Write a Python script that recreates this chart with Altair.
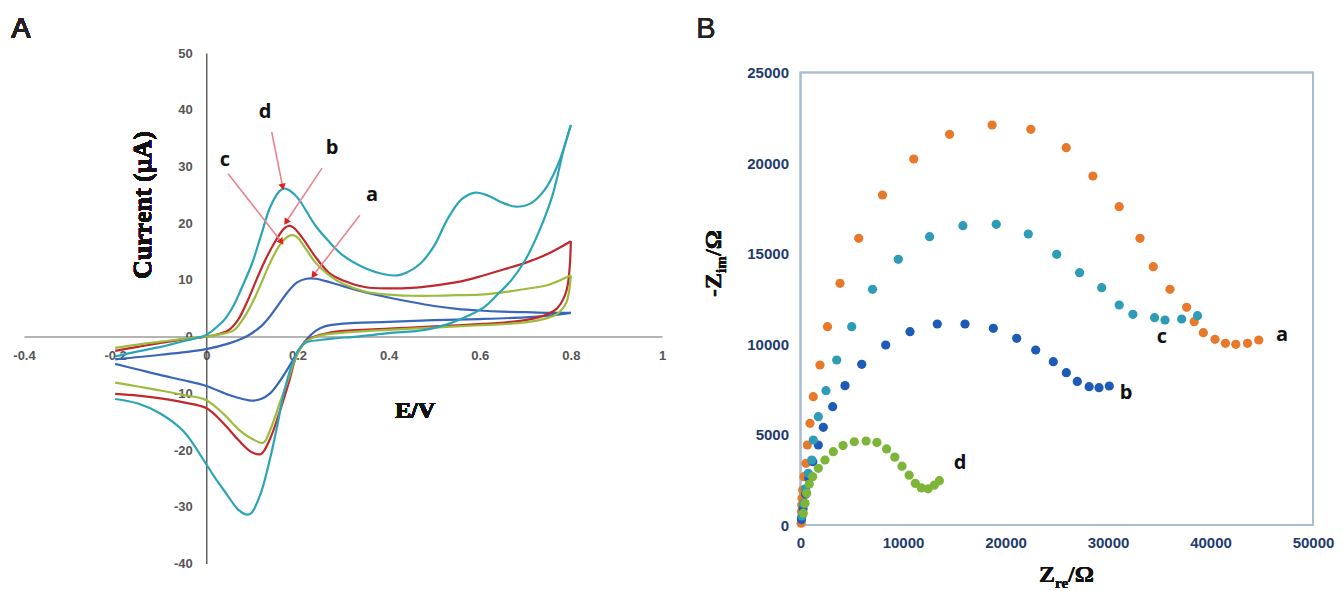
import math
import altair as alt
import pandas as pd

W, H = 1343, 591

# ---------------- Panel A : cyclic voltammograms (E / V, I / uA) ----------------
# each curve: forward (anodic) sweep -0.2 -> 0.8 V, then reverse sweep 0.8 -> -0.2 V
a_E = [-0.2, -0.1, 0.0, 0.05, 0.08, 0.10, 0.12, 0.14, 0.16, 0.18, 0.20, 0.22, 0.24, 0.27, 0.30, 0.35, 0.40, 0.45, 0.50, 0.55, 0.60, 0.65, 0.70, 0.75, 0.80,
       0.75, 0.70, 0.60, 0.50, 0.40, 0.30, 0.26, 0.24, 0.22, 0.20, 0.18, 0.16, 0.14, 0.12, 0.10, 0.08, 0.05, 0.0, -0.05, -0.10, -0.15, -0.20]
a_I = [-4.0, -3.2, -2.2, -1.2, -0.3, 0.6, 1.8, 3.6, 5.8, 8.0, 9.6, 10.2, 10.2, 9.6, 8.9, 7.8, 6.9, 6.1, 5.4, 4.9, 4.6, 4.4, 4.3, 4.2, 4.2,
       3.7, 3.4, 3.1, 2.9, 2.6, 2.3, 1.8, 1.0, -0.5, -2.8, -5.5, -8.0, -10.0, -11.0, -11.3, -11.0, -10.3, -8.7, -7.7, -6.8, -5.8, -4.8]

b_E = [-0.2, -0.15, -0.1, -0.05, 0.0, 0.03, 0.05, 0.07, 0.09, 0.11, 0.13, 0.15, 0.17, 0.18, 0.19, 0.21, 0.24, 0.27, 0.30, 0.35, 0.40, 0.45, 0.50, 0.55, 0.60, 0.65, 0.70, 0.75, 0.80,
       0.79, 0.77, 0.75, 0.70, 0.60, 0.50, 0.40, 0.30, 0.25, 0.22, 0.20, 0.18, 0.16, 0.14, 0.12, 0.10, 0.07, 0.04, 0.0, -0.05, -0.10, -0.15, -0.20]
b_I = [-2.5, -1.8, -1.1, -0.5, 0.0, 0.5, 1.2, 3.0, 6.2, 10.0, 13.6, 16.6, 19.0, 19.5, 19.3, 17.5, 14.0, 11.2, 9.9, 8.7, 8.5, 8.6, 9.0, 9.6, 10.6, 11.8, 13.0, 14.6, 16.8,
       8.0, 5.0, 4.0, 2.9, 2.2, 1.8, 1.4, 1.0, 0.3, -0.7, -3.0, -8.4, -13.5, -18.0, -20.7, -20.4, -18.2, -15.5, -12.6, -11.6, -10.9, -10.4, -10.1]

c_E = [-0.2, -0.15, -0.1, -0.05, 0.0, 0.03, 0.06, 0.08, 0.10, 0.12, 0.14, 0.16, 0.18, 0.19, 0.20, 0.22, 0.24, 0.27, 0.30, 0.35, 0.40, 0.45, 0.50, 0.55, 0.60, 0.65, 0.70, 0.75, 0.80,
       0.79, 0.77, 0.75, 0.70, 0.60, 0.50, 0.40, 0.30, 0.25, 0.22, 0.20, 0.18, 0.16, 0.14, 0.125, 0.10, 0.07, 0.04, 0.0, -0.05, -0.10, -0.15, -0.20]
c_I = [-2.0, -1.4, -0.9, -0.4, 0.0, 0.4, 1.1, 3.0, 5.8, 9.3, 13.0, 16.0, 17.7, 17.9, 17.5, 15.3, 13.0, 10.8, 9.3, 7.9, 7.4, 7.2, 7.2, 7.3, 7.4, 7.8, 8.4, 9.1, 10.8,
       6.0, 4.0, 3.3, 2.5, 2.0, 1.6, 1.2, 0.7, 0.2, -0.8, -3.0, -7.5, -12.0, -16.5, -18.7, -18.0, -16.3, -13.8, -11.2, -10.3, -9.5, -8.8, -8.1]

d_E = [-0.2, -0.15, -0.1, -0.05, 0.0, 0.02, 0.04, 0.06, 0.08, 0.10, 0.12, 0.14, 0.16, 0.17, 0.18, 0.20, 0.24, 0.27, 0.30, 0.35, 0.39, 0.42, 0.44, 0.47, 0.50, 0.53, 0.56, 0.59, 0.62, 0.65, 0.68, 0.71, 0.74, 0.77, 0.80,
       0.784, 0.76, 0.73, 0.70, 0.67, 0.64, 0.61, 0.57, 0.53, 0.48, 0.40, 0.33, 0.28, 0.25, 0.22, 0.206, 0.19, 0.17, 0.155, 0.14, 0.12, 0.10, 0.09, 0.07, 0.045, 0.02, 0.0, -0.05, -0.10, -0.15, -0.20]
d_I = [-3.5, -2.6, -1.8, -0.8, 0.3, 1.5, 3.0, 5.5, 9.0, 12.8, 17.8, 22.8, 25.6, 26.1, 25.9, 24.5, 19.5, 16.7, 14.3, 12.0, 11.0, 10.8, 11.3, 12.9, 16.0, 20.8, 24.2, 25.4, 24.8, 23.6, 22.9, 23.4, 25.6, 30.0, 37.3,
       32.9, 25.0, 18.5, 13.5, 10.0, 7.5, 5.2, 3.5, 2.2, 1.2, 0.6, 0.0, -0.3, -0.6, -1.0, -1.9, -4.5, -10.0, -16.0, -21.5, -27.5, -31.0, -31.4, -30.5, -27.8, -25.0, -22.5, -16.7, -13.6, -11.8, -11.0]

cv_names = ["a", "b", "c", "d"]
cv_colors = ["#3A66B8", "#C0282D", "#9DBB3C", "#2BA5B5"]

# arrows pointing at the anodic peaks (start -> tip), and the curve letters
arrow_label = ["d", "b", "c", "a"]
arrow_E0 = [0.1435, 0.254, 0.048, 0.337]
arrow_I0 = [36.1, 29.7, 28.7, 21.4]
arrow_E1 = [0.1677, 0.175, 0.165, 0.235]
arrow_I1 = [26.4, 20.2, 16.7, 10.8]
letterA_E = [0.129, 0.276, 0.041, 0.364]
letterA_I = [39.6, 33.2, 31.1, 25.0]

xA_ticks = [-0.4, -0.2, 0.0, 0.2, 0.4, 0.6, 0.8, 1.0]
yA_ticks = [-40, -30, -20, -10, 0, 10, 20, 30, 40, 50]

# ---------------- Panel B : Nyquist plots (Z_re, -Z_im in ohm) ----------------
a_re = [60, 80, 100, 120, 150, 215, 341, 537, 663, 927, 1249, 1902, 2634, 3854, 5683, 8000, 11049, 14546, 18693, 22468,
        25927, 28527, 31090, 33122, 34419, 36049, 37675, 38406, 39301, 40439, 41455, 42472, 43610, 44707]
a_im = [100, 400, 750, 1100, 1480, 1934, 2669, 3409, 4420, 5619, 7090, 8840, 10956, 13354, 15838, 18232, 20221, 21584, 22099, 21860,
        20846, 19282, 17586, 15838, 14271, 13020, 12026, 11234, 10626, 10258, 10036, 9982, 10036, 10221]

b_re = [100, 250, 500, 800, 1200, 1737, 2224, 3141, 4341, 5971, 8312, 10683, 13346, 16049, 18810, 21093, 22946, 24664,
        25936, 27005, 28160, 29122, 30127]
b_im = [300, 900, 1700, 2600, 3500, 4420, 5398, 6536, 7700, 8878, 9945, 10680, 11105, 11105, 10866, 10313, 9669, 9024,
        8416, 7930, 7642, 7587, 7680]

c_re = [150, 300, 500, 761, 1093, 1249, 1737, 2488, 3532, 4995, 7024, 9541, 12595, 15844, 19098, 22224, 24995, 27229,
        29385, 31093, 32429, 34546, 35561, 37190, 38732]
c_im = [500, 1200, 2000, 2856, 3591, 4696, 5983, 7420, 9116, 10956, 13020, 14680, 15930, 16538, 16613, 16077, 14956, 13939,
        13111, 12155, 11641, 11453, 11326, 11381, 11563]

d_re = [270, 440, 600, 860, 1190, 1740, 2390, 3200, 4150, 5250, 6400, 7450, 8400, 9200, 9900, 10600, 11200, 11800,
        12450, 13050, 13550]
d_im = [650, 1200, 1750, 2265, 2670, 3133, 3591, 4050, 4390, 4600, 4640, 4560, 4200, 3750, 3250, 2750, 2300, 2050,
        2000, 2200, 2450]

eis_colors = ["#E8792A", "#1E5BB8", "#2E9CB6", "#7DB539"]

letterB = ["a", "c", "b", "d"]
letterB_re = [46976, 35268, 31756, 15561]
letterB_im = [10497, 10387, 7293, 3409]

xB_ticks = [0, 10000, 20000, 30000, 40000, 50000]
yB_ticks = [0, 5000, 10000, 15000, 20000, 25000]

# ---------------- layout (pixel placement of the two plot areas) ----------------
A_XR = [24, 662]      # x range of panel A (-0.4 .. 1)
A_YR = [563.5, 53]    # y range of panel A (-40 .. 50)
A_X0, A_Y0 = 206.3, 336.5   # pixel position of the crossing axes
B_XR = [800.5, 1313]
B_YR = [525, 72.5]

# ---------------- tables ----------------
rows = []
for name, Es, Is in zip(cv_names, [a_E, b_E, c_E, d_E], [a_I, b_I, c_I, d_I]):
    turn = Es.index(max(Es))
    for k, (e, i) in enumerate(zip(Es, Is)):
        if k <= turn:
            rows.append({"curve": name, "seg": name + "_fwd", "E": e, "I": i, "seq": k})
        if k >= turn:
            rows.append({"curve": name, "seg": name + "_rev", "E": e, "I": i, "seq": k})
cv = pd.DataFrame(rows)

sx = (A_XR[1] - A_XR[0]) / 1.4
sy = (A_YR[0] - A_YR[1]) / 90.0
angles = []
for e0, i0, e1, i1 in zip(arrow_E0, arrow_I0, arrow_E1, arrow_I1):
    dx = (e1 - e0) * sx
    dy = -(i1 - i0) * sy
    angles.append(math.degrees(math.atan2(dx, -dy)) % 360)
arrows = pd.DataFrame({"lab": arrow_label, "E0": arrow_E0, "I0": arrow_I0,
                       "E1": arrow_E1, "I1": arrow_I1, "ang": angles})
lettersA = pd.DataFrame({"lab": arrow_label, "E": letterA_E, "I": letterA_I})

erows = []
for name, re_, im_ in zip(["a", "b", "c", "d"], [a_re, b_re, c_re, d_re], [a_im, b_im, c_im, d_im]):
    for r, m in zip(re_, im_):
        erows.append({"series": name, "Zre": r, "Zim": m})
eis = pd.DataFrame(erows)
lettersB = pd.DataFrame({"lab": letterB, "Zre": letterB_re, "Zim": letterB_im})

# ---------------- scales / axes ----------------
label_font = "Liberation Sans"
xA_scale = alt.Scale(domain=[-0.4, 1.0], range=A_XR, nice=False, zero=False)
yA_scale = alt.Scale(domain=[-40, 50], range=A_YR, nice=False, zero=False)
xA_axis = alt.Axis(orient="bottom", offset=-(H - A_Y0), values=xA_ticks, title=None, grid=False,
                   ticks=False, domainColor="#6b6b6b", domainWidth=1.2, labelPadding=13,
                   labelFlush=False, labelOverlap=False, labelExpr="'' + datum.value",
                   labelFont=label_font, labelFontSize=13, labelFontWeight="bold", labelColor="#555555")
yA_axis = alt.Axis(orient="left", offset=-A_X0, values=yA_ticks, title=None, grid=False,
                   ticks=False, domainColor="#3a3a3a", domainWidth=1.2, labelPadding=14,
                   labelFlush=False, labelOverlap=False, labelExpr="'' + datum.value",
                   labelFont=label_font, labelFontSize=13, labelFontWeight="bold", labelColor="#555555")

xB_scale = alt.Scale(domain=[0, 50000], range=B_XR, nice=False, zero=False)
yB_scale = alt.Scale(domain=[0, 25000], range=B_YR, nice=False, zero=False)
xB_axis = alt.Axis(orient="bottom", offset=-(H - B_YR[0]), values=xB_ticks, title=None, grid=False,
                   ticks=False, domain=False, labelPadding=10, labelFlush=False, labelOverlap=False,
                   format="d", labelFont=label_font, labelFontSize=15, labelFontWeight="bold",
                   labelColor="#1F3B6E")
yB_axis = alt.Axis(orient="left", offset=-B_XR[0], values=yB_ticks, title=None, grid=False,
                   ticks=False, domain=False, labelPadding=12, labelFlush=False, labelOverlap=False,
                   format="d", labelFont=label_font, labelFontSize=15, labelFontWeight="bold",
                   labelColor="#1F3B6E")

# ---------------- panel A ----------------
cv_lines = alt.Chart(cv).mark_line(strokeWidth=2.2, interpolate="catmull-rom").encode(
    x=alt.X("E:Q", scale=xA_scale, axis=xA_axis),
    y=alt.Y("I:Q", scale=yA_scale, axis=yA_axis),
    color=alt.Color("curve:N", scale=alt.Scale(domain=cv_names, range=cv_colors), legend=None),
    detail="seg:N",
    order=alt.Order("seq:Q"),
)
arrow_lines = alt.Chart(arrows).mark_rule(color="#E8848F", strokeWidth=1.6).encode(
    x=alt.X("E0:Q"), y=alt.Y("I0:Q"), x2="E1:Q", y2="I1:Q")
arrow_heads = alt.Chart(arrows).mark_point(shape="triangle-up", filled=True, size=55,
                                           color="#E0201E", opacity=1).encode(
    x=alt.X("E1:Q"), y=alt.Y("I1:Q"), angle=alt.Angle("ang:Q", scale=None))
letters_a = alt.Chart(lettersA).mark_text(font="Open Sans", fontSize=20, fontWeight="bold",
                                         color="#111111").encode(
    x=alt.X("E:Q"), y=alt.Y("I:Q"), text="lab:N")

title_cur = alt.Chart(cv).mark_text(text="Current (μA)", font="Liberation Serif", fontSize=26,
                                    fontWeight="bold", angle=270, align="center", baseline="middle",
                                    color="#111111").encode(x=alt.value(143), y=alt.value(205))
title_ev = alt.Chart(cv).mark_text(text="E/V", font="Liberation Serif", fontSize=24,
                                   fontWeight="bold", align="center", baseline="middle",
                                   color="#111111").encode(x=alt.value(415), y=alt.value(411))
tag_A = alt.Chart(cv).mark_text(text="A", font="Liberation Sans", fontSize=29, align="center",
                                baseline="middle", color="#222222").encode(x=alt.value(21), y=alt.value(29))

panelA = alt.layer(cv_lines, arrow_lines, arrow_heads, letters_a, title_cur, title_ev, tag_A)

# ---------------- panel B ----------------
frame = alt.Chart(lettersB).mark_rect(fillOpacity=0, stroke="#A9BCD2", strokeWidth=1.6).encode(
    x=alt.X(datum=0, scale=xB_scale, axis=xB_axis),
    x2=alt.X2(datum=50000),
    y=alt.Y(datum=0, scale=yB_scale, axis=yB_axis),
    y2=alt.Y2(datum=25000),
)
pts = alt.Chart(eis).mark_circle(size=85, opacity=1).encode(
    x=alt.X("Zre:Q"), y=alt.Y("Zim:Q"),
    color=alt.Color("series:N", scale=alt.Scale(domain=["a", "b", "c", "d"], range=eis_colors), legend=None),
)
letters_b = alt.Chart(lettersB).mark_text(font="Open Sans", fontSize=20, fontWeight="bold",
                                         color="#111111").encode(
    x=alt.X("Zre:Q"), y=alt.Y("Zim:Q"), text="lab:N")

serif = "Liberation Serif"
ty1 = alt.Chart(lettersB).mark_text(text="-Z", font=serif, fontSize=24, fontWeight="bold", angle=270,
                                    align="left", baseline="alphabetic", color="#111111").encode(
    x=alt.value(721), y=alt.value(297))
ty2 = alt.Chart(lettersB).mark_text(text="im", font=serif, fontSize=15, fontWeight="bold", angle=270,
                                    align="left", baseline="alphabetic", color="#111111").encode(
    x=alt.value(726), y=alt.value(273))
ty3 = alt.Chart(lettersB).mark_text(text="/Ω", font=serif, fontSize=24, fontWeight="bold", angle=270,
                                    align="left", baseline="alphabetic", color="#111111").encode(
    x=alt.value(721), y=alt.value(256))
tx1 = alt.Chart(lettersB).mark_text(text="Z", font=serif, fontSize=24, fontWeight="bold",
                                    align="left", baseline="alphabetic", color="#111111").encode(
    x=alt.value(1039), y=alt.value(582))
tx2 = alt.Chart(lettersB).mark_text(text="re", font=serif, fontSize=15, fontWeight="bold",
                                    align="left", baseline="alphabetic", color="#111111").encode(
    x=alt.value(1055), y=alt.value(588))
tx3 = alt.Chart(lettersB).mark_text(text="/Ω", font=serif, fontSize=24, fontWeight="bold",
                                    align="left", baseline="alphabetic", color="#111111").encode(
    x=alt.value(1068), y=alt.value(582))
tag_B = alt.Chart(lettersB).mark_text(text="B", font="Liberation Sans", fontSize=29, align="center",
                                      baseline="middle", color="#222222").encode(x=alt.value(706), y=alt.value(29))

panelB = alt.layer(frame, pts, letters_b, ty1, ty2, ty3, tx1, tx2, tx3, tag_B)

chart = alt.layer(panelA, panelB).resolve_scale(
    x="independent", y="independent", color="independent"
).resolve_axis(x="independent", y="independent").properties(
    width=W, height=H, padding=0, autosize=alt.AutoSizeParams(type="none"), background="white"
).configure_view(stroke=None)

chart.save("out.html", embed_options={"renderer": "svg", "actions": False})
